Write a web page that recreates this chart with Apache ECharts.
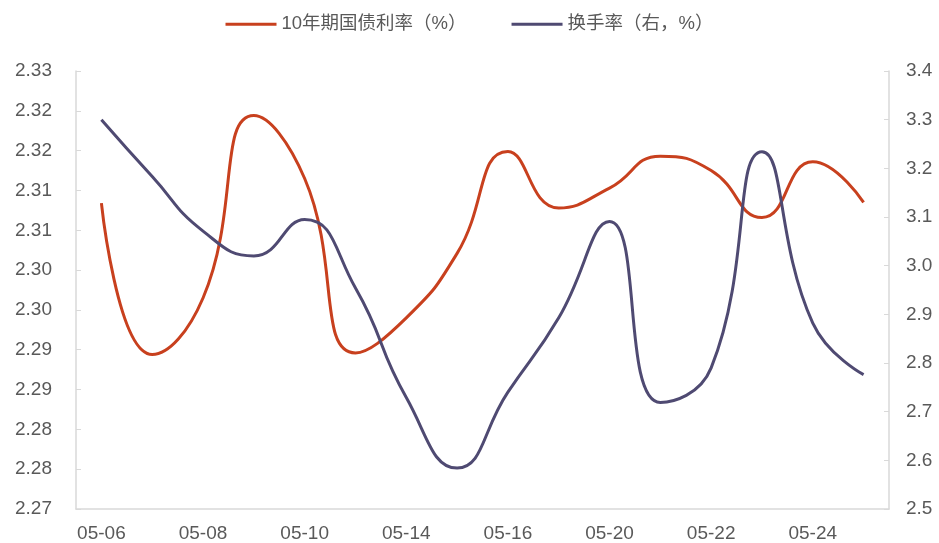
<!DOCTYPE html>
<html>
<head>
<meta charset="utf-8">
<script src="https://cdn.jsdelivr.net/npm/echarts@6/dist/echarts.min.js"></script>
<style>
  html, body { margin: 0; padding: 0; background: #ffffff; }
  #chart { width: 939px; height: 543px; }
</style>
</head>
<body>
<div id="chart"></div>
<script>
// Trading days in May
const dates = ['05-06', '05-07', '05-08', '05-09', '05-10', '05-13', '05-14', '05-15',
               '05-16', '05-17', '05-20', '05-21', '05-22', '05-23', '05-24', '05-27'];

// 10-year government bond yield (%)
const bondYield = [2.3084, 2.2894, 2.2965, 2.3194, 2.3115, 2.2896, 2.2940, 2.3021,
                   2.3149, 2.3078, 2.3103, 2.3143, 2.3125, 2.3066, 2.3136, 2.3085];

// Turnover rate (right axis, %)
const turnover = [3.300, 3.183, 3.071, 3.020, 3.095, 2.954, 2.729, 2.584,
                  2.740, 2.893, 3.091, 2.719, 2.790, 3.234, 2.882, 2.776];

// Left axis tick labels (two decimals)
const leftTicks = ['2.27', '2.28', '2.28', '2.29', '2.29', '2.30', '2.30', '2.31', '2.31', '2.32', '2.32', '2.33'];

const seriesNames = ['10年期国债利率（%）', '换手率（右，%）'];
const colors = ['#C8401E', '#4F4A72'];

const FONT = '"Liberation Sans", Arial, "Noto Sans CJK SC", sans-serif';
const textColor = '#595959';
const lineColor = '#d9d9d9';

const chart = echarts.init(document.getElementById('chart'));
chart.setOption({
  animation: false,
  color: colors,
  textStyle: { fontFamily: FONT },
  legend: {
    top: 10,
    left: 'center',
    itemWidth: 51,
    itemHeight: 3,
    itemGap: 45,
    itemTextGap: 6,
    icon: 'rect',
    textStyle: { fontSize: 18.5, color: textColor, fontFamily: FONT },
    data: seriesNames
  },
  grid: { left: 76, right: 50, top: 71, bottom: 33, containLabel: false },
  xAxis: {
    type: 'category',
    data: dates,
    boundaryGap: true,
    axisLine: { lineStyle: { color: lineColor, width: 1.5 } },
    axisTick: { inside: true, length: 5, lineStyle: { color: lineColor } },
    axisLabel: { interval: 1, fontSize: 19, color: textColor, margin: 15 }
  },
  yAxis: [
    {
      type: 'value',
      min: 2.27,
      max: 2.325,
      interval: 0.005,
      splitLine: { show: false },
      axisLine: { show: true, lineStyle: { color: lineColor, width: 1.5 } },
      axisTick: { show: true, inside: true, length: 5, lineStyle: { color: lineColor } },
      axisLabel: {
        fontSize: 19, color: textColor, margin: 24,
        formatter: function (v) {
          const i = Math.round((v - 2.27) / 0.005);
          return leftTicks[i] !== undefined ? leftTicks[i] : '';
        }
      }
    },
    {
      type: 'value',
      min: 2.5,
      max: 3.4,
      interval: 0.1,
      splitLine: { show: false },
      axisLine: { show: true, lineStyle: { color: lineColor, width: 1.5 } },
      axisTick: { show: true, inside: true, length: 5, lineStyle: { color: lineColor } },
      axisLabel: {
        fontSize: 19, color: textColor, margin: 17,
        formatter: function (v) { return v.toFixed(1); }
      }
    }
  ],
  series: [
    {
      name: seriesNames[0],
      type: 'line',
      yAxisIndex: 0,
      data: bondYield,
      smooth: 0.5,
      symbol: 'none',
      lineStyle: { width: 3, color: colors[0] }
    },
    {
      name: seriesNames[1],
      type: 'line',
      yAxisIndex: 1,
      data: turnover,
      smooth: 0.5,
      symbol: 'none',
      lineStyle: { width: 3, color: colors[1] }
    }
  ]
});
</script>
</body>
</html>
